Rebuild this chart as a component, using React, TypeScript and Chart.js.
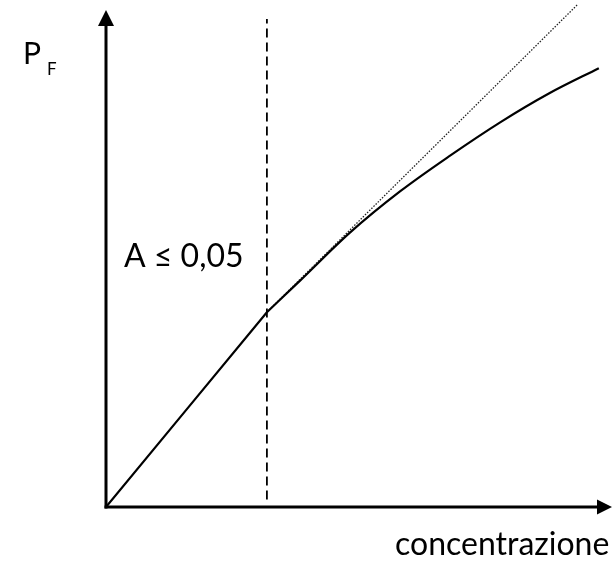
import React, { useEffect, useRef } from "react";
import { Chart, registerables } from "chart.js";

Chart.register(...registerables);

// Linear (proportional) region of the fluorescence signal
const linearX = [0, 15.9, 31.8];
const linearY = [0, 19.6, 39.2];

// Curved (deviation) region at higher concentration
const curveX = [31.8, 38.3, 48.2, 58.1, 68.0, 77.9, 87.7, 97.4];
const curveY = [39.2, 45.5, 55.2, 63.5, 70.7, 77.4, 83.3, 88.3];

// Ideal linear extrapolation (dotted)
const tangentX = [31.8, 93.1];
const tangentY = [39.2, 101];

// Vertical limit line at A <= 0,05 (dashed)
const limitX = [31.8, 31.8];
const limitY = [1.5, 98.2];

const yAxisLabel = "P";
const yAxisSub = "F";
const xAxisLabel = "concentrazione";
const limitLabel = "A \u2264 0,05";

const toPoints = (xs: number[], ys: number[]) => xs.map((x, i) => ({ x, y: ys[i] }));

const decorPlugin = {
  id: "decor",
  afterDatasetsDraw(chart: any) {
    const { ctx, chartArea } = chart;
    const left = chartArea.left;
    const bottom = chartArea.bottom;
    ctx.save();
    ctx.strokeStyle = "#000";
    ctx.fillStyle = "#000";
    ctx.lineWidth = 3;
    // y axis
    ctx.beginPath();
    ctx.moveTo(left, bottom + 1.5);
    ctx.lineTo(left, 24);
    ctx.stroke();
    ctx.beginPath();
    ctx.moveTo(left - 8, 26);
    ctx.lineTo(left + 8, 26);
    ctx.lineTo(left, 10);
    ctx.closePath();
    ctx.fill();
    // x axis
    ctx.beginPath();
    ctx.moveTo(left - 1.5, bottom);
    ctx.lineTo(599, bottom);
    ctx.stroke();
    ctx.beginPath();
    ctx.moveTo(597, bottom - 7.5);
    ctx.lineTo(597, bottom + 7.5);
    ctx.lineTo(612, bottom);
    ctx.closePath();
    ctx.fill();

    // texts
    ctx.textBaseline = "alphabetic";
    ctx.textAlign = "left";
    ctx.font = "30px Lato";
    ctx.fillText(yAxisLabel, 23, 64);
    ctx.font = "17px Lato";
    ctx.fillText(yAxisSub, 47, 75);
    ctx.font = "32px Lato";
    ctx.fillText(limitLabel, 124, 267);
    ctx.font = "32px Lato";
    ctx.fillText(xAxisLabel, 395, 555);
    ctx.restore();
  },
};

export default function App() {
  const ref = useRef<HTMLCanvasElement | null>(null);
  useEffect(() => {
    if (!ref.current) return;
    const chart = new Chart(ref.current, {
      type: "scatter",
      data: {
        datasets: [
          {
            label: "lineare",
            data: toPoints(linearX, linearY),
            showLine: true,
            borderColor: "#000",
            borderWidth: 2.2,
            pointRadius: 0,
            tension: 0,
          },
          {
            label: "deviazione",
            data: toPoints(curveX, curveY),
            showLine: true,
            borderColor: "#000",
            borderWidth: 2.2,
            pointRadius: 0,
            cubicInterpolationMode: "monotone",
          },
          {
            label: "estrapolazione",
            data: toPoints(tangentX, tangentY),
            showLine: true,
            borderColor: "#222",
            borderWidth: 1.3,
            borderDash: [1.5, 1.5],
            pointRadius: 0,
            clip: false,
          },
          {
            label: "limite",
            data: toPoints(limitX, limitY),
            showLine: true,
            borderColor: "#000",
            borderWidth: 1.8,
            borderDash: [9, 5],
            pointRadius: 0,
            clip: false,
          },
        ],
      } as any,
      options: {
        responsive: false,
        animation: false,
        layout: { padding: { left: 106, right: 4, top: 10, bottom: 58 } },
        plugins: { legend: { display: false }, tooltip: { enabled: false } },
        scales: {
          x: { type: "linear", min: 0, max: 100, display: false },
          y: { type: "linear", min: 0, max: 100, display: false },
        },
      } as any,
      plugins: [decorPlugin],
    });
    return () => chart.destroy();
  }, []);
  return (
    <div style={{ position: "absolute", left: 0, top: 0, width: 616, height: 565, background: "#fff" }}>
      <canvas ref={ref} width={616} height={565} style={{ display: "block" }} />
    </div>
  );
}
